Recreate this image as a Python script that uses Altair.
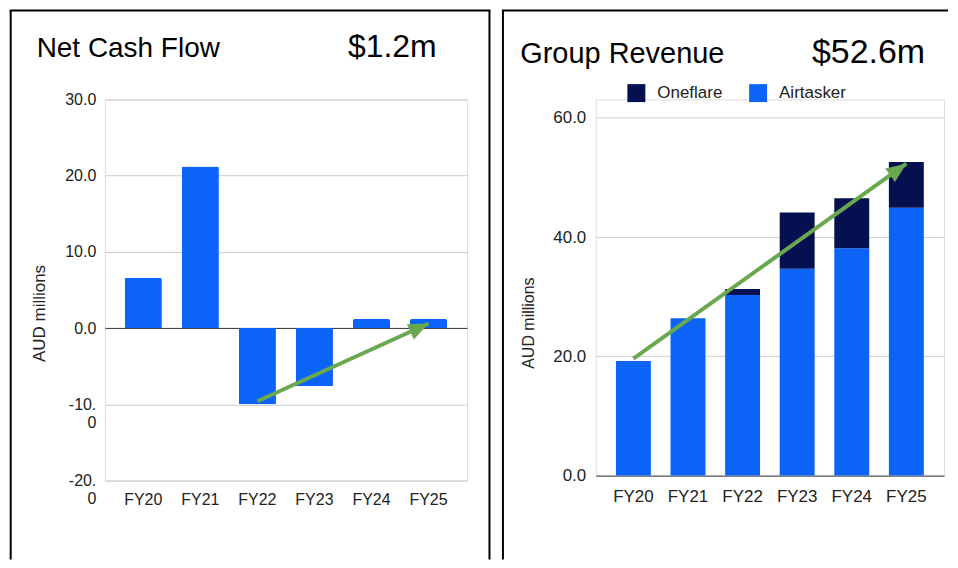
import altair as alt
import pandas as pd

# ---------------- data ----------------
years = ["FY20", "FY21", "FY22", "FY23", "FY24", "FY25"]
net_cash = [6.6, 21.2, -10.0, -7.6, 1.2, 1.2]
airtasker = [19.2, 26.4, 30.3, 34.7, 38.1, 44.9]
oneflare = [0.0, 0.0, 1.0, 9.4, 8.4, 7.7]
series_names = ["Oneflare", "Airtasker"]
series_colors = ["#04104f", "#0b63f7"]

left_ticks = [-20, -10, 0, 10, 20, 30]
right_ticks = [0, 20, 40, 60]

cash_arrow_years = ["FY22", "FY25"]
cash_arrow_values = [-9.6, 0.6]
rev_arrow_years = ["FY20", "FY25"]
rev_arrow_values = [19.6, 52.3]

# ---------------- style ----------------
FONT = "Liberation Sans"
BLUE = "#0b63f7"
GREEN = "#6aa84f"
TXT = "#222222"
ARROW = "M0,0L-1,-0.42L-1,0.42Z"
GRID = {"condition": {"test": "datum.value === 0", "value": "#333333"}, "value": "#cccccc"}

LW, LH = 363, 382
RW, RH = 349, 377
RIGHT_TOP = 63.08  # headroom above the 60.0 gridline

one = pd.DataFrame({"k": [0]})


def frame(x1, x2, y1, y2, right=True):
    layers = [
        alt.Chart(one).mark_rule(color="black", strokeWidth=2).encode(
            x=alt.value(x1 - 1), x2=alt.value(x2 + 1), y=alt.value(y1)),
        alt.Chart(one).mark_rule(color="black", strokeWidth=2).encode(
            x=alt.value(x1), y=alt.value(y1), y2=alt.value(y2)),
    ]
    if right:
        layers.append(alt.Chart(one).mark_rule(color="black", strokeWidth=2).encode(
            x=alt.value(x2), y=alt.value(y1), y2=alt.value(y2)))
    return layers


def label(text, x, y, size):
    return alt.Chart(one).mark_text(
        text=text, font=FONT, fontSize=size, align="left", baseline="alphabetic", color="black"
    ).encode(x=alt.value(x), y=alt.value(y))


# ---------------- left panel ----------------
cash_df = pd.DataFrame({"year": years, "value": net_cash})
cash_arrow = pd.DataFrame({"year": cash_arrow_years, "value": cash_arrow_values})

xl = alt.X("year:N", sort=years, title=None,
           scale=alt.Scale(paddingInner=0.35, paddingOuter=0.35),
           axis=alt.Axis(labelAngle=0, labelFontSize=16, labelPadding=11, ticks=False,
                         domain=False, labelColor=TXT, labelFont=FONT))
yl = alt.Y("value:Q", title="AUD millions",
           scale=alt.Scale(domain=[-20, 30], nice=False),
           axis=alt.Axis(values=left_ticks,
                         labelExpr="datum.value < 0 ? ['-' + toString(abs(datum.value)) + '.', '0'] : format(datum.value, '.1f')",
                         labelFontSize=16, labelPadding=9, labelLineHeight=18, ticks=False, domain=False,
                         gridColor=GRID, labelColor=TXT, labelFont=FONT,
                         titleFontSize=17, titleFontWeight="normal", titleColor=TXT, titleFont=FONT,
                         titleAngle=270, titleBaseline="middle", titleAlign="center",
                         titleX=-65.6, titleY=214))

cash_bars = alt.Chart(cash_df).mark_bar(color=BLUE, cornerRadiusEnd=2).encode(x=xl, y=yl)
cash_line = alt.Chart(cash_arrow).mark_line(color=GREEN, strokeWidth=4).encode(
    x=alt.X("year:N", sort=years, title=None), y=alt.Y("value:Q", title="AUD millions"))
cash_head = alt.Chart(cash_arrow.iloc[[1]]).mark_point(
    shape=ARROW, size=1600, filled=True, color=GREEN, opacity=1, angle=335.6, strokeWidth=0
).encode(x=alt.X("year:N", sort=years, title=None), y=alt.Y("value:Q", title="AUD millions"))

left = alt.layer(
    cash_bars, cash_line, cash_head,
    label("Net Cash Flow", -68.3, -42, 28),
    label("$1.2m", 243.7, -42, 32),
    *frame(-94.3, 385.5, -89, 461),
).properties(width=LW, height=LH)

# ---------------- right panel ----------------
rev_df = pd.DataFrame({
    "year": years * 2,
    "series": ["Airtasker"] * 6 + ["Oneflare"] * 6,
    "value": airtasker + oneflare,
    "order": [0] * 6 + [1] * 6,
})
rev_arrow = pd.DataFrame({"year": rev_arrow_years, "value": rev_arrow_values})

xr = alt.X("year:N", sort=years, title=None,
           scale=alt.Scale(paddingInner=0.36, paddingOuter=0.37),
           axis=alt.Axis(labelAngle=0, labelFontSize=17, labelPadding=13, ticks=False,
                         domain=False, labelColor=TXT, labelFont=FONT))
yr = alt.Y("value:Q", title="AUD millions", stack="zero",
           scale=alt.Scale(domain=[0, RIGHT_TOP], nice=False),
           axis=alt.Axis(values=right_ticks, format=".1f",
                         labelFontSize=17, labelPadding=10, ticks=False, domain=False,
                         gridColor=GRID, labelColor=TXT, labelFont=FONT,
                         titleFontSize=16, titleFontWeight="normal", titleColor=TXT, titleFont=FONT,
                         titleAngle=270, titleBaseline="middle", titleAlign="center",
                         titleX=-67.3, titleY=223.7))

rev_bars = alt.Chart(rev_df).mark_bar().encode(
    x=xr, y=yr,
    color=alt.Color("series:N", scale=alt.Scale(domain=series_names, range=series_colors),
                    legend=alt.Legend(orient="none", legendX=31.7, legendY=-15.3, direction="horizontal",
                                      title=None, symbolType="square", symbolSize=324,
                                      symbolStrokeWidth=0, labelFontSize=17, labelFont=FONT,
                                      labelOffset=12, columnPadding=26, padding=0, labelColor=TXT)),
    order=alt.Order("order:Q"),
)
rev_line = alt.Chart(rev_arrow).mark_line(color=GREEN, strokeWidth=4).encode(
    x=alt.X("year:N", sort=years, title=None), y=alt.Y("value:Q", title="AUD millions"))
rev_head = alt.Chart(rev_arrow.iloc[[1]]).mark_point(
    shape=ARROW, size=1600, filled=True, color=GREEN, opacity=1, angle=324.5, strokeWidth=0
).encode(x=alt.X("year:N", sort=years, title=None), y=alt.Y("value:Q", title="AUD millions"))

right = alt.layer(
    rev_bars, rev_line, rev_head,
    label("Group Revenue", -75.7, -36.3, 29),
    label("$52.6m", 216.7, -36.3, 34),
    *frame(-93, 352, -89, 461, right=False),
).properties(width=RW, height=RH)

chart = alt.hconcat(left, right, spacing=8).resolve_legend(color="independent").properties(
    padding=0).configure_view(stroke=None).configure(font=FONT)

chart.save("out.html", embed_options={"renderer": "svg", "actions": False})
